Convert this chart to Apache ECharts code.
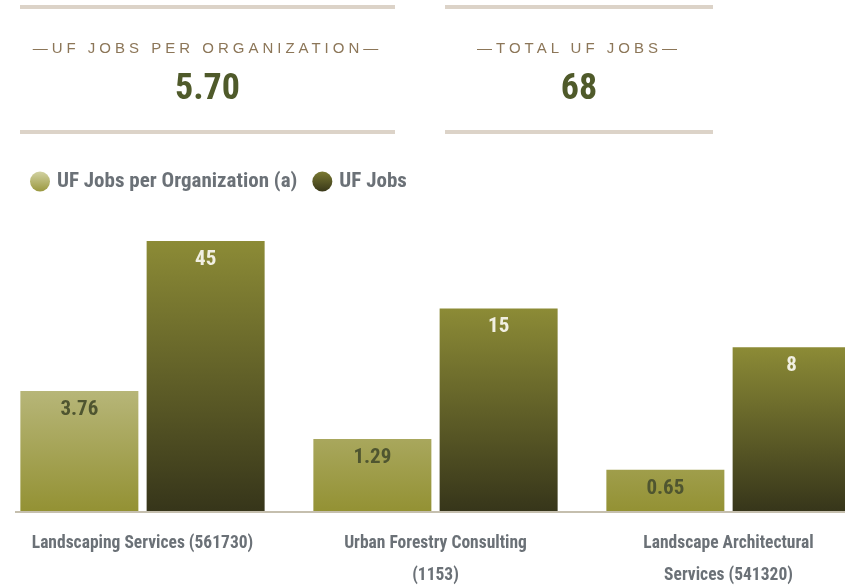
<!DOCTYPE html>
<html>
<head>
<meta charset="utf-8">
<title>UF Jobs</title>
<script src="https://cdn.jsdelivr.net/npm/echarts@6/dist/echarts.min.js"></script>
<style>
  body { margin: 0; background: #fff; }
  #wrap { position: relative; width: 845px; height: 588px; overflow: hidden; }
  #chart { position: absolute; left: -4px; top: 0; width: 879px; height: 588px; }
  .kpi { position: absolute; top: 5px; height: 121px; border-top: 4px solid #dcd3c8; border-bottom: 4px solid #dcd3c8; text-align: center; }
  .kpi .lbl { margin-top: 30px; height: 18px; line-height: 18px; font-family: "Liberation Sans", Arial, sans-serif; font-size: 15px; letter-spacing: 4px; color: #8c7658; }
  .kpi .val { margin-top: 10px; height: 40px; line-height: 40px; font-family: "Roboto Condensed", sans-serif; font-weight: bold; font-size: 36px; color: #4f5a2a; }
</style>
</head>
<body>
<div id="wrap">
  <div id="chart"></div>
</div>
<script>
// KPI tiles
var kpiLabels = ['UF JOBS PER ORGANIZATION', 'TOTAL UF JOBS'];
var kpiValues = ['5.70', '68'];
var kpiBoxes = [[20, 375], [445, 268]];

// chart data
var categories = ['Landscaping Services (561730)', 'Urban Forestry Consulting\n(1153)', 'Landscape Architectural\nServices (541320)'];
var jobsPerOrg = [3.76, 1.29, 0.65];
var ufJobs = [45, 15, 8];

var condensed = '"Roboto Condensed", sans-serif';

kpiLabels.forEach(function (lbl, i) {
	var d = document.createElement('div');
	d.className = 'kpi';
	d.style.left = kpiBoxes[i][0] + 'px';
	d.style.width = kpiBoxes[i][1] + 'px';
	d.innerHTML = '<div class="lbl">\u2014' + lbl + '\u2014</div><div class="val">' + kpiValues[i] + '</div>';
	document.getElementById('wrap').appendChild(d);
});

function grad(c1, c2, global, y1, y2) {
	if (global) {
		return new echarts.graphic.LinearGradient(0, y1, 0, y2, [{offset: 0, color: c1}, {offset: 1, color: c2}], true);
	}
	return new echarts.graphic.LinearGradient(0, 0, 0, 1, [{offset: 0, color: c1}, {offset: 1, color: c2}]);
}

var myChart = echarts.init(document.getElementById('chart'));

var option = {
	animation: false,
	legend: {
		left: 29,
		top: 166,
		icon: 'circle',
		itemWidth: 20,
		itemHeight: 20,
		itemGap: 15,
		textStyle: {
			fontFamily: condensed,
			fontSize: 21,
			fontWeight: 'bold',
			color: '#6b7177',
			padding: [0, 0, 0, 2]
		},
		data: [
			{name: 'UF Jobs per Organization (a)', itemStyle: {color: grad('#d2d2a2', '#9a983f')}},
			{name: 'UF Jobs', itemStyle: {color: grad('#7a7932', '#393819')}}
		]
	},
	grid: {
		left: 0,
		right: 0,
		top: 232,
		bottom: 76,
		containLabel: false,
		outerBoundsMode: 'none'
	},
	xAxis: {
		type: 'category',
		data: categories,
		axisLine: {show: false},
		axisTick: {show: false},
		axisLabel: {
			interval: 0,
			margin: 16,
			fontFamily: condensed,
			fontSize: 17.5,
			fontWeight: 'bold',
			color: '#6b7177',
			lineHeight: 32
		}
	},
	yAxis: [
		{type: 'log', min: 0.2534, max: 130.9, startValue: 0.2534, show: false, splitLine: {show: false}},
		{type: 'log', min: 0.5465, max: 52.2, startValue: 0.5465, show: false, splitLine: {show: false}}
	],
	series: [
		{
			name: 'UF Jobs per Organization (a)',
			type: 'bar',
			yAxisIndex: 0,
			barWidth: 118,
			barGap: '7%',
			data: jobsPerOrg,
			itemStyle: {color: grad('#b7b679', '#939133', true, 390, 512)},
			label: {
				show: true,
				position: 'insideTop',
				distance: 8,
				fontFamily: condensed,
				fontSize: 21,
				fontWeight: 'bold',
				color: '#4f5530'
			}
		},
		{
			name: 'UF Jobs',
			type: 'bar',
			yAxisIndex: 1,
			barWidth: 118,
			barGap: '7%',
			data: ufJobs,
			itemStyle: {color: grad('#8c8b36', '#36351a')},
			label: {
				show: true,
				position: 'insideTop',
				distance: 8,
				fontFamily: condensed,
				fontSize: 21,
				fontWeight: 'bold',
				color: '#f1efe2'
			}
		}
	],
	graphic: [
		{
			type: 'line',
			z: 100,
			shape: {x1: 19, y1: 512, x2: 879, y2: 512},
			style: {stroke: '#c5bfae', lineWidth: 2}
		}
	]
};

myChart.setOption(option);
</script>
</body>
</html>
